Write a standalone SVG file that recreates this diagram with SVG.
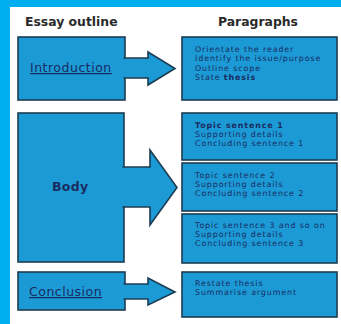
<svg xmlns="http://www.w3.org/2000/svg" width="341" height="324" viewBox="0 0 341 324">
<style>
.box{fill:#1c9ad6;stroke:#1d3c52;stroke-width:1.6}
.arr{fill:#1c9ad6;stroke:#1d3c52;stroke-width:1.6;stroke-linejoin:miter}
.hd{font-family:"DejaVu Sans",sans-serif;font-weight:bold;font-size:12.4px;fill:#2a2a2a}
.lb{font-family:"DejaVu Sans",sans-serif;font-size:12.5px;letter-spacing:0.5px;fill:#1a2c5e}
.tx{font-family:"DejaVu Sans",sans-serif;font-size:7.9px;letter-spacing:0.9px;fill:#1a2c5e}
.b{font-weight:bold}
</style>
<rect x="0" y="0" width="341" height="324" fill="#ffffff"/>
<rect x="0" y="0" width="341" height="7" fill="#00aeef"/>
<rect x="0" y="0" width="10" height="324" fill="#00aeef"/>
<text class="hd" x="25" y="26">Essay outline</text>
<text class="hd" x="218" y="26">Paragraphs</text>
<g id="introduction">
<rect class="box" x="18" y="37" width="107" height="63"/>
<text class="lb" x="30" y="72" text-decoration="underline">Introduction</text>
</g>
<g id="body">
<rect class="box" x="18" y="113" width="106" height="149"/>
<text class="lb b" x="52" y="191" style="letter-spacing:0.3px">Body</text>
</g>
<g id="conclusion">
<rect class="box" x="18" y="272" width="107" height="38"/>
<text class="lb" x="29" y="296" text-decoration="underline">Conclusion</text>
</g>
<g id="p-intro">
<rect class="box" x="182" y="37" width="155" height="63"/>
<text class="tx" x="195" y="52">Orientate the reader</text>
<text class="tx" x="195" y="61.4">Identify the issue/purpose</text>
<text class="tx" x="195" y="70.8">Outline scope</text>
<text class="tx" x="195" y="80.2">State <tspan class="b">thesis</tspan></text>
</g>
<g id="p-body1">
<rect class="box" x="182" y="113" width="155" height="47"/>
<text class="tx b" x="195" y="127.5">Topic sentence 1</text>
<text class="tx" x="195" y="136.9">Supporting details</text>
<text class="tx" x="195" y="146.3">Concluding sentence 1</text>
</g>
<g id="p-body2">
<rect class="box" x="182" y="163" width="155" height="48"/>
<text class="tx" x="195" y="177.5">Topic sentence 2</text>
<text class="tx" x="195" y="186.9">Supporting details</text>
<text class="tx" x="195" y="196.3">Concluding sentence 2</text>
</g>
<g id="p-body3">
<rect class="box" x="182" y="214" width="155" height="49"/>
<text class="tx" x="195" y="227.5">Topic sentence 3 and so on</text>
<text class="tx" x="195" y="236.9">Supporting details</text>
<text class="tx" x="195" y="246.3">Concluding sentence 3</text>
</g>
<g id="p-conclusion">
<rect class="box" x="182" y="272" width="155" height="45"/>
<text class="tx" x="195" y="285.5">Restate thesis</text>
<text class="tx" x="195" y="294.9">Summarise argument</text>
</g>
<g id="connectors">
<path class="arr" d="M123.5 58 L148 58 L148 52 L175 68.5 L148 85 L148 78 L123.5 78"/>
<path class="arr" d="M122.5 167 L150 167 L150 150 L177 187.5 L150 225 L150 207 L122.5 207"/>
<path class="arr" d="M123.5 284 L148 284 L148 278 L175 292 L148 305 L148 299 L123.5 299"/>
</g>
</svg>
